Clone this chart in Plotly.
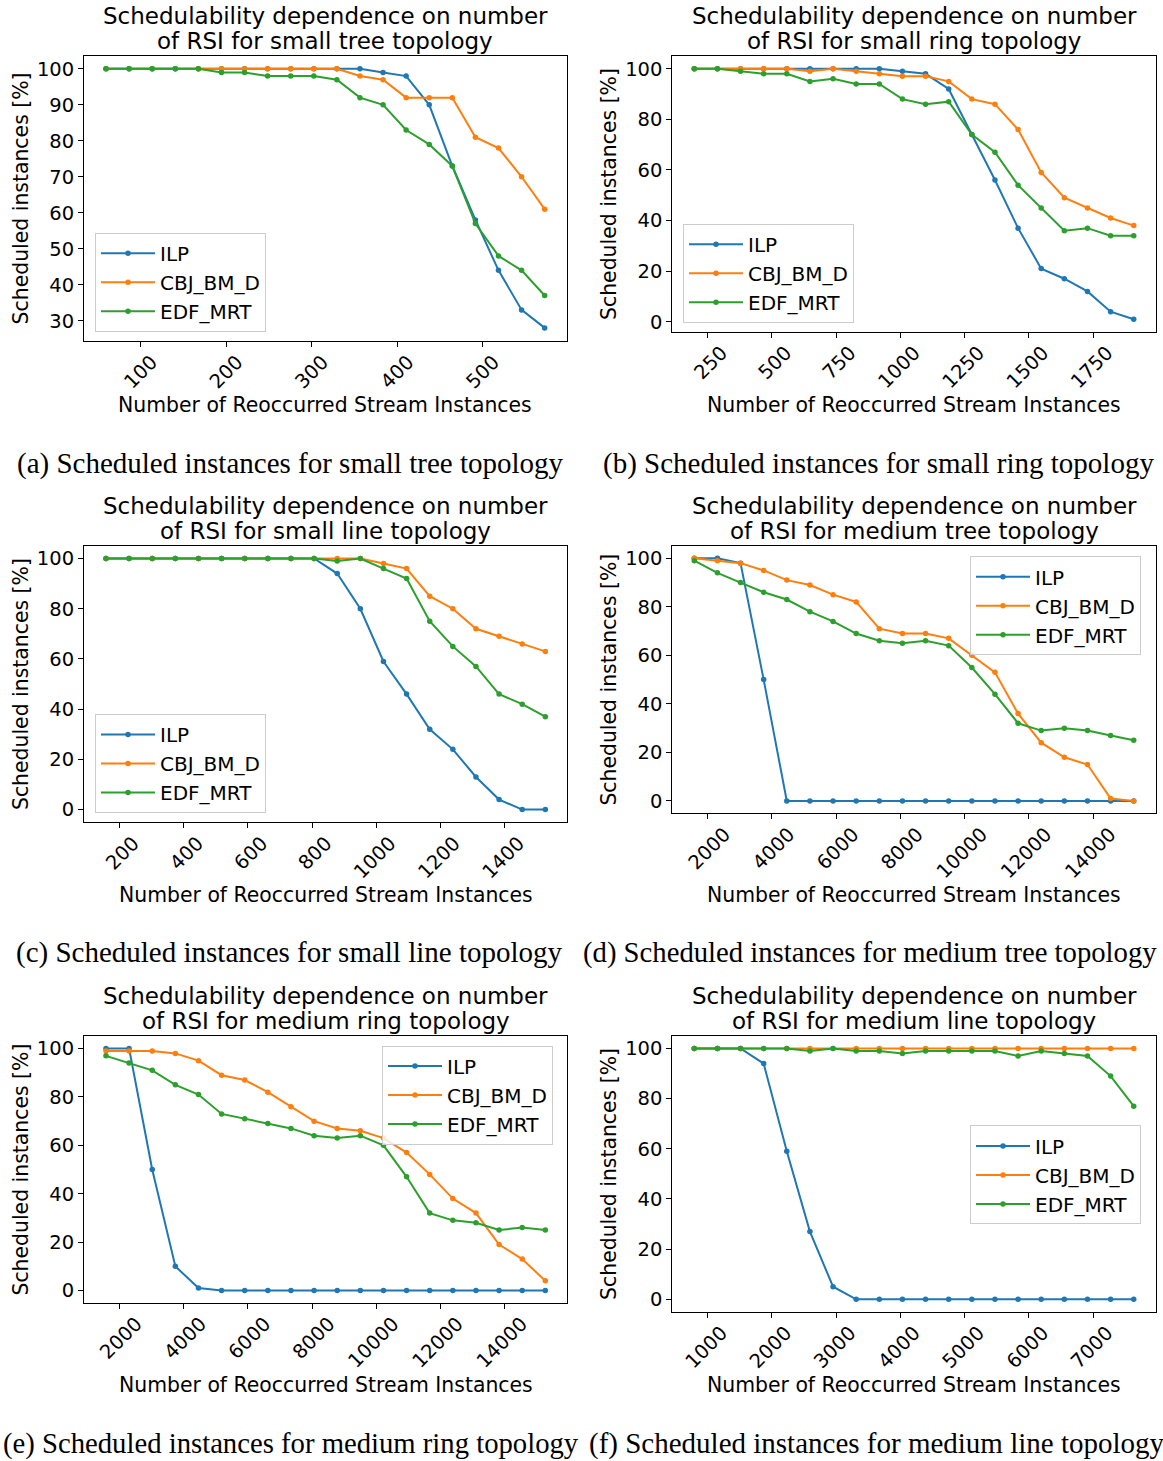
import plotly.graph_objects as go

W, H = 1163, 1461

SERIES = ["ILP", "CBJ_BM_D", "EDF_MRT"]
COLORS = ["#1f77b4", "#ff7f0e", "#2ca02c"]

# (a) small tree
x_a = [59.4, 86.4, 113.4, 140.4, 167.4, 194.4, 221.4, 248.4, 275.4, 302.4,
       329.4, 356.4, 383.4, 410.4, 437.4, 464.4, 491.4, 518.4, 545.4, 572.4]
ilp_a = [100, 100, 100, 100, 100, 100, 100, 100, 100, 100, 100, 100, 99, 98, 90, 73, 58, 44, 33, 28]
cbj_a = [100, 100, 100, 100, 100, 100, 100, 100, 100, 100, 100, 98, 97, 92, 92, 92, 81, 78, 70, 61]
edf_a = [100, 100, 100, 100, 100, 99, 99, 98, 98, 98, 97, 92, 90, 83, 79, 73, 57, 48, 44, 37]

# (b) small ring
x_b = [198, 288, 378, 468, 558, 648, 738, 828, 918, 1008,
       1098, 1188, 1278, 1368, 1458, 1548, 1638, 1728, 1818, 1908]
ilp_b = [100, 100, 100, 100, 100, 100, 100, 100, 100, 99, 98, 92, 74, 56, 37, 21, 17, 12, 4, 1]
cbj_b = [100, 100, 100, 100, 100, 99, 100, 99, 98, 97, 97, 95, 88, 86, 76, 59, 49, 45, 41, 38]
edf_b = [100, 100, 99, 98, 98, 95, 96, 94, 94, 88, 86, 87, 74, 67, 54, 45, 36, 37, 34, 34]

# (c) small line
x_c = [158.4, 230.4, 302.4, 374.4, 446.4, 518.4, 590.4, 662.4, 734.4, 806.4,
       878.4, 950.4, 1022.4, 1094.4, 1166.4, 1238.4, 1310.4, 1382.4, 1454.4, 1526.4]
ilp_c = [100, 100, 100, 100, 100, 100, 100, 100, 100, 100, 94, 80, 59, 46, 32, 24, 13, 4, 0, 0]
cbj_c = [100, 100, 100, 100, 100, 100, 100, 100, 100, 100, 100, 100, 98, 96, 85, 80, 72, 69, 66, 63]
edf_c = [100, 100, 100, 100, 100, 100, 100, 100, 100, 100, 99, 100, 96, 92, 75, 65, 57, 46, 42, 37]

# (d) medium tree
x_d = [1584, 2304, 3024, 3744, 4464, 5184, 5904, 6624, 7344, 8064,
       8784, 9504, 10224, 10944, 11664, 12384, 13104, 13824, 14544, 15264]
ilp_d = [100, 100, 98, 50, 0, 0, 0, 0, 0, 0, 0, 0, 0, 0, 0, 0, 0, 0, 0, 0]
cbj_d = [100, 99, 98, 95, 91, 89, 85, 82, 71, 69, 69, 67, 60, 53, 36, 24, 18, 15, 1, 0]
edf_d = [99, 94, 90, 86, 83, 78, 74, 69, 66, 65, 66, 64, 55, 44, 32, 29, 30, 29, 27, 25]

# (e) medium ring
x_e = [1584, 2304, 3024, 3744, 4464, 5184, 5904, 6624, 7344, 8064,
       8784, 9504, 10224, 10944, 11664, 12384, 13104, 13824, 14544, 15264]
ilp_e = [100, 100, 50, 10, 1, 0, 0, 0, 0, 0, 0, 0, 0, 0, 0, 0, 0, 0, 0, 0]
cbj_e = [99, 99, 99, 98, 95, 89, 87, 82, 76, 70, 67, 66, 63, 57, 48, 38, 32, 19, 13, 4]
edf_e = [97, 94, 91, 85, 81, 73, 71, 69, 67, 64, 63, 64, 60, 47, 32, 29, 28, 25, 26, 25]

# (f) medium line
x_f = [792, 1152, 1512, 1872, 2232, 2592, 2952, 3312, 3672, 4032,
       4392, 4752, 5112, 5472, 5832, 6192, 6552, 6912, 7272, 7632]
ilp_f = [100, 100, 100, 94, 59, 27, 5, 0, 0, 0, 0, 0, 0, 0, 0, 0, 0, 0, 0, 0]
cbj_f = [100, 100, 100, 100, 100, 100, 100, 100, 100, 100, 100, 100, 100, 100, 100, 100, 100, 100, 100, 100]
edf_f = [100, 100, 100, 100, 100, 99, 100, 99, 99, 98, 99, 99, 99, 99, 97, 99, 98, 97, 89, 77]

TITLE_L1 = "Schedulability dependence on number"
TITLES_L2 = ["of RSI for small tree topology", "of RSI for small ring topology",
             "of RSI for small line topology", "of RSI for medium tree topology",
             "of RSI for medium ring topology", "of RSI for medium line topology"]
CAPTIONS = ["(a) Scheduled instances for small tree topology",
            "(b) Scheduled instances for small ring topology",
            "(c) Scheduled instances for small line topology",
            "(d) Scheduled instances for medium tree topology",
            "(e) Scheduled instances for medium ring topology",
            "(f) Scheduled instances for medium line topology"]
XLABEL = "Number of Reoccurred Stream Instances"
YLABEL = "Scheduled instances [%]"
X_DTICK = [100, 250, 200, 2000, 2000, 1000]
Y_TICKS = [[30, 40, 50, 60, 70, 80, 90, 100]] + [[0, 20, 40, 60, 80, 100]] * 5

panels = [
    (x_a, [ilp_a, cbj_a, edf_a]),
    (x_b, [ilp_b, cbj_b, edf_b]),
    (x_c, [ilp_c, cbj_c, edf_c]),
    (x_d, [ilp_d, cbj_d, edf_d]),
    (x_e, [ilp_e, cbj_e, edf_e]),
    (x_f, [ilp_f, cbj_f, edf_f]),
]

# layout geometry (pixels): frame left, right, top, bottom
frames = [
    (84.1, 566.6, 56.0, 341.3),
    (672.3, 1155.7, 56.3, 332.2),
    (84.0, 567.3, 546.7, 823.3),
    (672.3, 1155.7, 546.9, 814.2),
    (84.0, 567.3, 1037.9, 1304.4),
    (672.3, 1155.7, 1037.4, 1313.6),
]
tick_shift = [11, 14, 14, 17, 17, 14]
title_y = [(16, 41), (16, 41), (507, 532), (507, 532), (997, 1022), (997, 1022)]
xlabel_y = [406, 406, 896, 896, 1387, 1387]
caption_pos = [(290, 464), (878, 464), (289, 954), (870, 954), (291, 1445), (877, 1445)]
caption_size = [29, 29, 29, 28.7, 28.7, 29]
ylabel_x = [21, 609, 21, 609, 21, 609]
legend_pos = [(95, 233), (683, 224), (95, 715), (970, 557), (382, 1047), (970, 1127)]

FONT = "DejaVu Sans"
fig = go.Figure()
annotations = []
layout = dict(width=W, height=H, margin=dict(l=0, r=0, t=0, b=0), autosize=False,
              paper_bgcolor="white", plot_bgcolor="white",
              font=dict(family=FONT, color="black", size=20))

def px2x(v):
    return v / W

def px2y(v):
    return 1 - v / H

for k, (xs, ys_list) in enumerate(panels):
    i = k + 1
    sfx = "" if i == 1 else str(i)
    lg = "legend" + sfx
    for name, ys, col in zip(SERIES, ys_list, COLORS):
        fig.add_trace(go.Scatter(x=xs, y=ys, mode="lines+markers", name=name,
                                 line=dict(color=col, width=2),
                                 marker=dict(size=5.5, color=col),
                                 xaxis="x" + sfx, yaxis="y" + sfx, legend=lg))
    l, r, t, b = frames[k]
    xmin, xmax = min(xs), max(xs)
    allv = [v for ys in ys_list for v in ys]
    ymin, ymax = min(allv), max(allv)
    xp = 0.05 * (xmax - xmin)
    yp = 0.05 * (ymax - ymin)
    layout["xaxis" + sfx] = dict(
        domain=[px2x(l), px2x(r)], range=[xmin - xp, xmax + xp], anchor="y" + sfx,
        dtick=X_DTICK[k], tick0=0, tickformat="d", tickangle=-45, ticks="outside",
        ticklen=5, tickwidth=1,
        tickcolor="black", showline=True, mirror=True, linecolor="black", linewidth=1,
        showgrid=False, zeroline=False, tickfont=dict(size=19.5, family=FONT, color="black"),
        ticklabelshift=tick_shift[k], ticklabelstandoff=-4)
    layout["yaxis" + sfx] = dict(
        domain=[px2y(b), px2y(t)], range=[ymin - yp, ymax + yp], anchor="x" + sfx,
        tickvals=Y_TICKS[k], ticks="outside", ticklen=5, tickwidth=1,
        tickcolor="black", showline=True, mirror=True, linecolor="black", linewidth=1,
        showgrid=False, zeroline=False, tickfont=dict(size=19.5, family=FONT, color="black"))
    lx, ly = legend_pos[k]
    layout[lg] = dict(x=px2x(lx), y=px2y(ly), xanchor="left", yanchor="top",
                      bgcolor="rgba(255,255,255,0.8)", bordercolor="#cccccc", borderwidth=1,
                      font=dict(size=20, family=FONT, color="black"), itemwidth=54)
    cx = (l + r) / 2
    ty1, ty2 = title_y[k]
    annotations.append(dict(text=TITLE_L1, x=px2x(cx), y=px2y(ty1), xref="paper", yref="paper",
                            showarrow=False, xanchor="center", yanchor="middle",
                            font=dict(size=23, family=FONT, color="black")))
    annotations.append(dict(text=TITLES_L2[k], x=px2x(cx), y=px2y(ty2), xref="paper", yref="paper",
                            showarrow=False, xanchor="center", yanchor="middle",
                            font=dict(size=23, family=FONT, color="black")))
    annotations.append(dict(text=XLABEL, x=px2x(cx), y=px2y(xlabel_y[k]), xref="paper", yref="paper",
                            showarrow=False, xanchor="center", yanchor="middle",
                            font=dict(size=20.4, family=FONT, color="black")))
    annotations.append(dict(text=YLABEL, x=px2x(ylabel_x[k]), y=px2y((t + b) / 2), xref="paper",
                            yref="paper", showarrow=False, xanchor="center", yanchor="middle",
                            textangle=-90, font=dict(size=20.4, family=FONT, color="black")))
    capx, capy = caption_pos[k]
    annotations.append(dict(text=CAPTIONS[k], x=px2x(capx), y=px2y(capy), xref="paper", yref="paper",
                            showarrow=False, xanchor="center", yanchor="middle",
                            font=dict(size=caption_size[k], family="Liberation Serif", color="black")))

layout["annotations"] = annotations
layout["showlegend"] = True
fig.update_layout(**layout)
fig.write_html("out.html")
